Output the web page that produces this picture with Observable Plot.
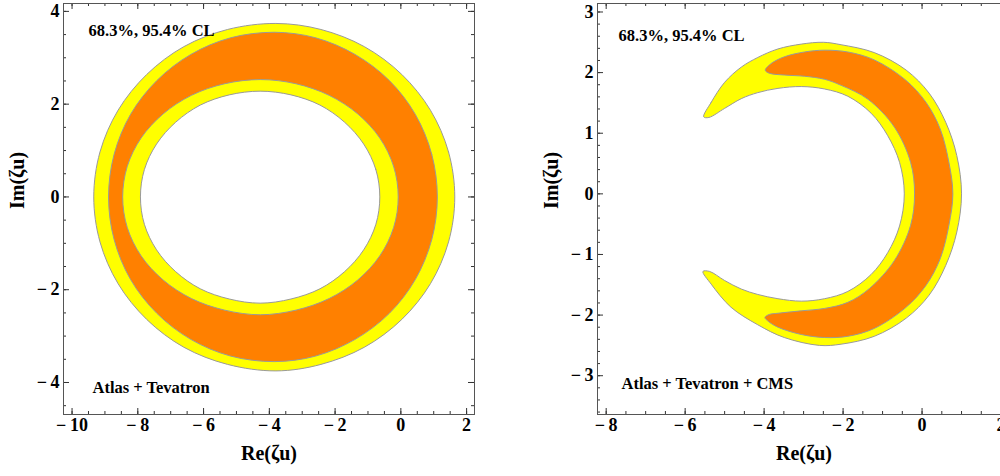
<!DOCTYPE html>
<html><head><meta charset="utf-8">
<script src="https://cdn.jsdelivr.net/npm/d3@7"></script>
<script src="https://cdn.jsdelivr.net/npm/@observablehq/plot@0.6"></script>
<style>
html,body{margin:0;padding:0;background:#fff;}
#wrap{position:relative;width:1000px;height:476px;overflow:hidden;background:#fff;}
#left{position:absolute;left:0;top:0;width:500px;height:476px;}
#right{position:absolute;left:534px;top:0;width:500px;height:476px;}
#wrap svg{max-width:none !important;width:500px;height:476px;}
</style></head><body><div id="wrap"><div id="left"></div><div id="right"></div></div>
<script>
// ---------- DATA ----------
// Left panel: Atlas + Tevatron  (boundaries of the CL regions, [Re, Im])
const leftOuter95 = [[1.64,0],[1.45,0.97],[0.90,1.87],[0.03,2.64],[-1.11,3.24],[-2.43,3.61],[-3.80,3.74],[-5.27,3.61],[-6.60,3.24],[-7.73,2.64],[-8.60,1.87],[-9.15,0.97],[-9.34,0],[-9.15,-0.97],[-8.60,-1.87],[-7.73,-2.64],[-6.60,-3.24],[-5.27,-3.61],[-3.80,-3.75],[-2.43,-3.61],[-1.11,-3.24],[0.03,-2.64],[0.90,-1.87],[1.45,-0.97]];
const leftOuter68 = [[1.11,0],[0.94,0.92],[0.44,1.78],[-0.35,2.51],[-1.39,3.07],[-2.59,3.43],[-3.85,3.55],[-5.18,3.43],[-6.39,3.07],[-7.42,2.51],[-8.22,1.78],[-8.72,0.92],[-8.89,0],[-8.72,-0.92],[-8.22,-1.78],[-7.42,-2.51],[-6.39,-3.07],[-5.18,-3.43],[-3.85,-3.55],[-2.59,-3.43],[-1.39,-3.07],[-0.35,-2.51],[0.44,-1.78],[0.94,-0.92]];
const leftInner68 = [[-0.08,0],[-0.22,0.66],[-0.64,1.27],[-1.31,1.79],[-2.18,2.19],[-3.19,2.44],[-4.27,2.53],[-5.36,2.44],[-6.37,2.19],[-7.23,1.79],[-7.90,1.27],[-8.32,0.66],[-8.46,0],[-8.32,-0.66],[-7.90,-1.27],[-7.23,-1.79],[-6.37,-2.19],[-5.36,-2.44],[-4.27,-2.54],[-3.19,-2.44],[-2.18,-2.19],[-1.31,-1.79],[-0.64,-1.27],[-0.22,-0.66]];
const leftInner95 = [[-0.64,0],[-0.76,0.59],[-1.13,1.14],[-1.71,1.61],[-2.46,1.98],[-3.34,2.20],[-4.28,2.28],[-5.22,2.20],[-6.10,1.98],[-6.85,1.61],[-7.43,1.14],[-7.80,0.59],[-7.92,0],[-7.80,-0.59],[-7.43,-1.14],[-6.85,-1.61],[-6.10,-1.98],[-5.22,-2.20],[-4.28,-2.29],[-3.34,-2.20],[-2.46,-1.98],[-1.71,-1.61],[-1.13,-1.14],[-0.76,-0.59]];

// Right panel: Atlas + Tevatron + CMS
const rightRegion95 = [[-5.53,1.27],[-5.34,1.51],[-5.00,1.84],[-4.58,2.09],[-4.16,2.25],[-3.65,2.39],[-3.06,2.47],[-2.50,2.50],[-2.05,2.46],[-1.21,2.33],[-0.40,2.04],[0.18,1.66],[0.60,1.18],[0.88,0.63],[1.00,0.00],[0.88,-0.63],[0.60,-1.18],[0.18,-1.67],[-0.40,-2.05],[-1.21,-2.35],[-2.05,-2.48],[-2.60,-2.50],[-3.49,-2.37],[-4.16,-2.16],[-4.84,-1.87],[-5.34,-1.49],[-5.55,-1.28],[-5.38,-1.28],[-5.00,-1.43],[-4.58,-1.57],[-4.16,-1.66],[-3.65,-1.73],[-3.06,-1.77],[-2.47,-1.73],[-1.88,-1.61],[-1.29,-1.33],[-0.87,-0.97],[-0.57,-0.53],[-0.45,0.00],[-0.57,0.52],[-0.87,0.96],[-1.29,1.33],[-1.88,1.61],[-2.47,1.73],[-3.06,1.77],[-3.65,1.74],[-4.16,1.67],[-4.58,1.57],[-5.00,1.41],[-5.40,1.26]];
const rightRegion68 = [[-3.97,2.04],[-3.82,2.15],[-3.49,2.26],[-2.98,2.34],[-2.47,2.37],[-1.88,2.34],[-1.21,2.21],[-0.42,1.88],[0.10,1.51],[0.46,1.07],[0.68,0.52],[0.78,0.00],[0.68,-0.52],[0.46,-1.07],[0.10,-1.51],[-0.42,-1.88],[-1.21,-2.22],[-1.88,-2.35],[-2.47,-2.37],[-3.06,-2.32],[-3.65,-2.20],[-3.88,-2.11],[-3.98,-2.04],[-3.87,-1.99],[-3.65,-1.97],[-3.06,-1.93],[-2.47,-1.89],[-1.88,-1.79],[-1.33,-1.56],[-0.70,-1.10],[-0.29,-0.52],[-0.19,0.00],[-0.29,0.52],[-0.70,1.10],[-1.37,1.56],[-2.05,1.79],[-2.47,1.89],[-2.98,1.94],[-3.49,1.96],[-3.87,1.99]];

// Axes / ticks / labels
const leftXTicks = [-10,-8,-6,-4,-2,0,2];
const leftYTicks = [-4,-2,0,2,4];
const rightXTicks = [-8,-6,-4,-2,0,2];
const rightYTicks = [-3,-2,-1,0,1,2,3];
const leftXDomain = [-10.26, 2.24], leftYDomain = [-4.69, 4.17];
const rightXDomain = [-8.22, 2.24], rightYDomain = [-3.64, 3.14];
const xTitle = "Re(ζu)", yTitle = "Im(ζu)";
const clLabel = "68.3%, 95.4% CL";
const leftSetLabel = "Atlas + Tevatron";
const rightSetLabel = "Atlas + Tevatron + CMS";

const YELLOW = "#ffff00", ORANGE = "#ff8000", EDGE = "#9a9a9a";
const FONT = "'Liberation Serif', 'DejaVu Serif', serif";

function panel(o) {
  const W = 500, H = 476, mL = 63, mT = 3, mB = 62, mR = o.marginRight;
  const fw = W - mL - mR, fh = H - mT - mB;
  const fmt = d => d < 0 ? "\u2212\u2009" + Math.abs(d) : String(d);
  const tc = "#333";
  const xMinor = d3.range(Math.ceil(o.xDomain[0] / o.xMinorStep) * o.xMinorStep, o.xDomain[1] + 1e-9, o.xMinorStep);
  const yMinor = d3.range(Math.ceil(o.yDomain[0] / o.yMinorStep) * o.yMinorStep, o.yDomain[1] + 1e-9, o.yMinorStep);
  const txt = {fontFamily: FONT, fontWeight: "bold"};
  return Plot.plot({
    width: W, height: H, marginLeft: mL, marginRight: mR, marginTop: mT, marginBottom: mB,
    x: {domain: o.xDomain, axis: null}, y: {domain: o.yDomain, axis: null},
    style: {fontFamily: FONT, fontWeight: "bold", fontSize: "18px", background: "white", color: "#000", overflow: "visible"},
    marks: [
      ...o.regions.map(r => Plot.line(r.pts, {x: d => d[0], y: d => d[1], fill: r.fill, stroke: EDGE, strokeWidth: 1, curve: "catmull-rom-closed"})),
      Plot.ruleX(xMinor, {insetTop: fh - 3, stroke: tc}),
      Plot.ruleX(xMinor, {insetBottom: fh - 3, stroke: tc}),
      Plot.ruleX(o.xTicks, {insetTop: fh - 6, stroke: tc}),
      Plot.ruleX(o.xTicks, {insetBottom: fh - 6, stroke: tc}),
      Plot.ruleY(yMinor, {insetRight: fw - 3, stroke: tc}),
      Plot.ruleY(yMinor, {insetLeft: fw - 3, stroke: tc}),
      Plot.ruleY(o.yTicks, {insetRight: fw - 6, stroke: tc}),
      Plot.ruleY(o.yTicks, {insetLeft: fw - 6, stroke: tc}),
      Plot.frame({stroke: "#555"}),
      Plot.text(o.xTicks, {x: d => d, text: fmt, frameAnchor: "bottom", dy: 16, fontSize: 18, ...txt}),
      Plot.text(o.yTicks, {y: d => d, text: fmt, frameAnchor: "left", textAnchor: "end", dx: -4, fontSize: 18, ...txt}),
      Plot.text([xTitle], {text: d => d, frameAnchor: "bottom", dy: 45, fontSize: 20, ...txt}),
      Plot.text([yTitle], {text: d => d, frameAnchor: "left", dx: -46, rotate: -90, fontSize: 20, ...txt}),
      Plot.text([clLabel], {text: d => d, frameAnchor: "top-left", textAnchor: "start", dx: o.topDx, dy: o.topDy, fontSize: 16.5, ...txt}),
      Plot.text([o.setLabel], {text: d => d, frameAnchor: "bottom-left", textAnchor: "start", dx: o.botDx, dy: o.botDy, fontSize: 16.5, ...txt})
    ]
  });
}

document.getElementById("left").append(panel({
  xDomain: leftXDomain, yDomain: leftYDomain, xTicks: leftXTicks, yTicks: leftYTicks,
  xMinorStep: 0.5, yMinorStep: 0.5, marginRight: 26,
  regions: [
    {pts: leftOuter95, fill: YELLOW},
    {pts: leftOuter68, fill: ORANGE},
    {pts: leftInner68, fill: YELLOW},
    {pts: leftInner95, fill: "white"}
  ],
  setLabel: leftSetLabel, topDx: 25, topDy: 21, botDx: 29, botDy: -22
}));

document.getElementById("right").append(panel({
  xDomain: rightXDomain, yDomain: rightYDomain, xTicks: rightXTicks, yTicks: rightYTicks,
  xMinorStep: 0.5, yMinorStep: 0.2, marginRight: 24,
  regions: [
    {pts: rightRegion95, fill: YELLOW},
    {pts: rightRegion68, fill: ORANGE}
  ],
  setLabel: rightSetLabel, topDx: 21, topDy: 26, botDx: 24, botDy: -26
}));
</script>
</body></html>
